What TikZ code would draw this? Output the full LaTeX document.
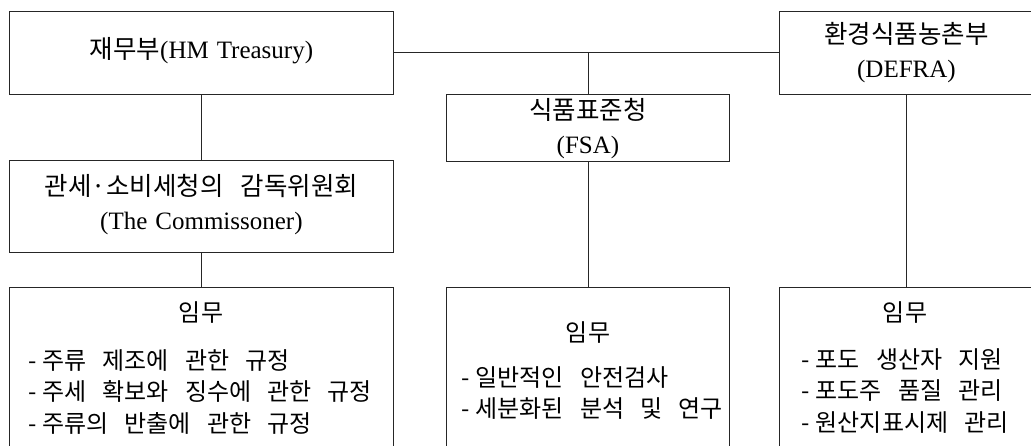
\documentclass[tikz,border=0pt]{standalone}
\usepackage{fontspec}
\setmainfont{Liberation Serif}
\newfontfamily\kr{Noto Sans CJK KR}[WordSpace=2.0]
\newfontfamily\krl{Noto Sans CJK KR}[WordSpace=3.0]
\newcommand{\dsh}{-\hspace{6pt}}
\begin{document}
\begin{tikzpicture}[x=1pt,y=-1pt,
  box/.style={draw=black!85, line width=0.9pt, inner sep=0pt, anchor=north west},
  toptxt/.style={font=\fontsize{25pt}{34pt}\selectfont, align=center, inner sep=0pt},
  tasktitle/.style={font=\krl\fontsize{24pt}{31pt}\selectfont, inner sep=0pt},
  tasklist/.style={font=\krl\fontsize{24pt}{31.5pt}\selectfont, align=left, inner sep=0pt},
  link/.style={draw=black!85, line width=0.9pt}]
\useasboundingbox (0,0) rectangle (1031,446);
\clip (0,0) rectangle (1031,446);
% top row boxes
\node[box, minimum width=384pt, minimum height=83pt] (treas) at (9,11) {};
\node[box, minimum width=254pt, minimum height=83pt] (defra) at (779,11) {};
\node[box, minimum width=283pt, minimum height=67pt] (fsa) at (446,94) {};
\node[box, minimum width=384pt, minimum height=92pt] (comm) at (9,160) {};
% task boxes
\node[box, minimum width=384pt, minimum height=180pt] (task1) at (9,287) {};
\node[box, minimum width=283pt, minimum height=180pt] (task2) at (446,287) {};
\node[box, minimum width=254pt, minimum height=180pt] (task3) at (779,287) {};
% texts
\node[toptxt] (treastxt) at ([yshift=2pt]treas.center) {{\kr\fontsize{25.5pt}{34pt}\selectfont 재무부}(HM\hspace{8pt}Treasury)};
\node[toptxt] (defratxt) at ([yshift=0pt]defra.center) {{\kr\fontsize{25.5pt}{34pt}\selectfont 환경식품농촌부}\\(DEFRA)};
\node[toptxt] (fsatxt) at ([yshift=-1pt]fsa.center) {{\kr\fontsize{25.5pt}{34pt}\selectfont 식품표준청}\\(FSA)};
\node[toptxt] (commtxt) at ([yshift=2pt]comm.center) {{\kr\fontsize{25.5pt}{34pt}\selectfont 관세·소비세청의 감독위원회}\\(The\hspace{8pt}Commissoner)};
\node[tasktitle] (t1title) at (201,313) {임무};
\node[tasklist] (t1list) at (200,392) {\dsh 주류 제조에 관한 규정\\\dsh 주세 확보와 징수에 관한 규정\\\dsh 주류의 반출에 관한 규정};
\node[tasktitle] (t2title) at (588,333) {임무};
\node[tasklist] (t2list) at (592,393) {\dsh 일반적인 안전검사\\\dsh 세분화된 분석 및 연구};
\node[tasktitle] (t3title) at (905,313) {임무};
\node[tasklist] (t3list) at (905,391) {\dsh 포도 생산자 지원\\\dsh 포도주 품질 관리\\\dsh 원산지표시제 관리};
% connectors
\coordinate (j) at (fsa.north |- treas.east);
\path[link] (treas.east) -- (defra.west);
\path[link] (j) -- (fsa.north);
\path[link] (treas.south) -- (comm.north);
\path[link] (comm.south) -- (task1.north);
\path[link] (fsa.south) -- (task2.north);
\path[link] (defra.south) -- (task3.north);
\end{tikzpicture}
\end{document}
